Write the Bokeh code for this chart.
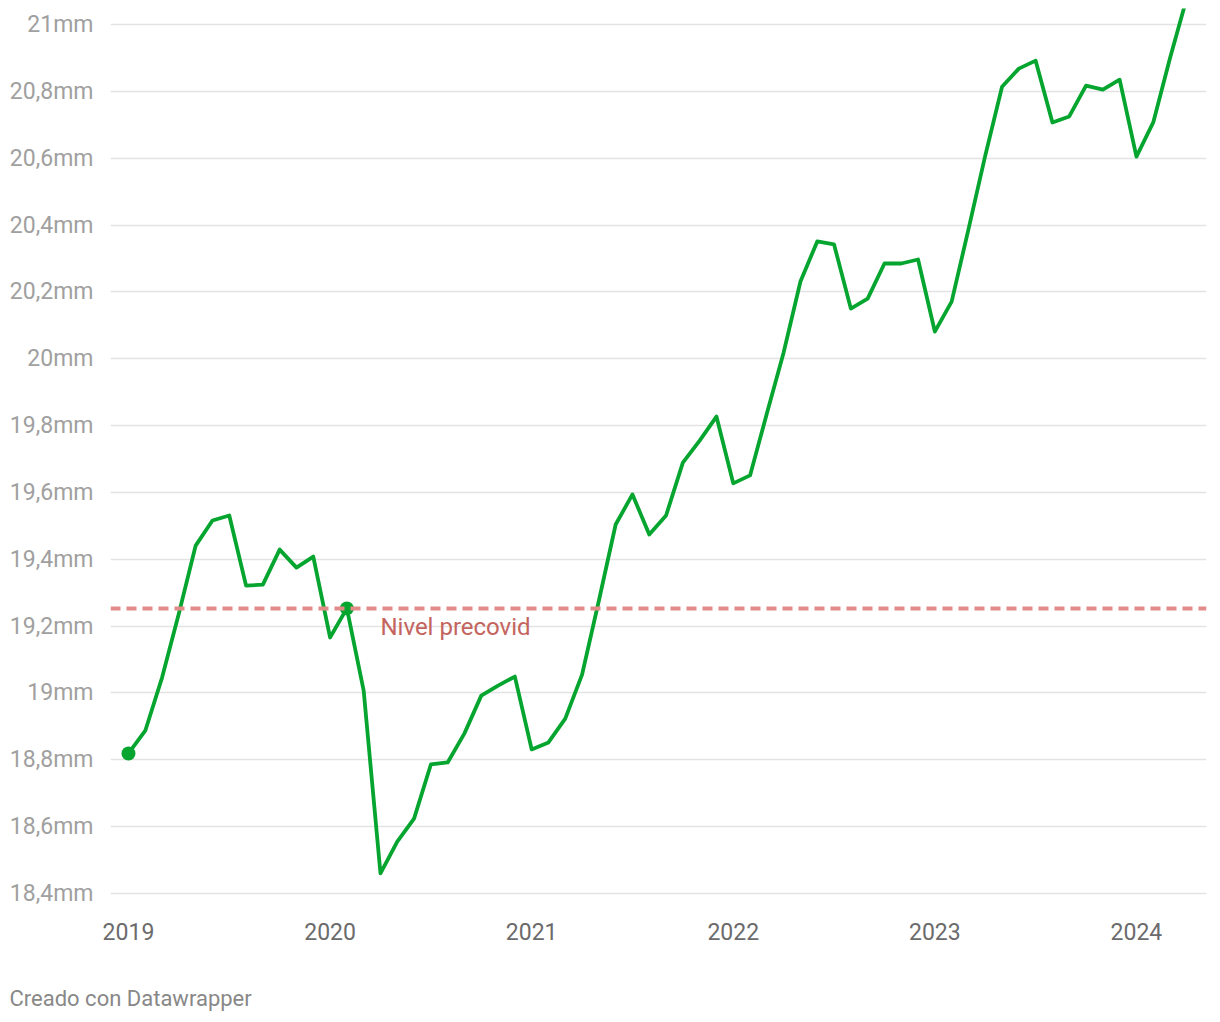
from bokeh.plotting import figure
from bokeh.models import ColumnDataSource, FixedTicker, Span, Label, Title, Range1d
from bokeh.embed import file_html
from bokeh.resources import INLINE

# Monthly values, Jan 2019 .. Apr 2024 (month index 0 = Jan 2019)
months = list(range(64))
values = [
    18.819, 18.887, 19.046, 19.238, 19.441, 19.516, 19.531, 19.321, 19.324, 19.429, 19.375, 19.408,
    19.166, 19.253, 19.007, 18.460, 18.555, 18.624, 18.786, 18.792, 18.879, 18.992, 19.022, 19.049,
    18.831, 18.852, 18.923, 19.055, 19.276, 19.504, 19.594, 19.474, 19.531, 19.689, 19.755, 19.827,
    19.627, 19.651, 19.836, 20.019, 20.231, 20.351, 20.342, 20.150, 20.180, 20.285, 20.285, 20.297,
    20.081, 20.171, 20.387, 20.608, 20.814, 20.868, 20.892, 20.707, 20.725, 20.817, 20.805, 20.835,
    20.605, 20.707, 20.900, 21.080,
]
highlight_months = [0, 13]
highlight_values = [18.819, 19.253]
precovid_level = 19.253
precovid_label = "Nivel precovid"

year_ticks = [0, 12, 24, 36, 48, 60]
year_labels = ["2019", "2020", "2021", "2022", "2023", "2024"]
y_ticks = [18.4, 18.6, 18.8, 19.0, 19.2, 19.4, 19.6, 19.8, 20.0, 20.2, 20.4, 20.6, 20.8, 21.0]
y_labels = ["18,4mm", "18,6mm", "18,8mm", "19mm", "19,2mm", "19,4mm", "19,6mm", "19,8mm",
            "20mm", "20,2mm", "20,4mm", "20,6mm", "20,8mm", "21mm"]
footer = "Creado con Datawrapper"

FONT = "Roboto"
GREEN = "#06a52f"

p = figure(frame_width=1096, frame_height=892, output_backend="svg", toolbar_location=None,
           x_range=Range1d(-1.07, 64.17), y_range=Range1d(18.379, 21.048),
           min_border_left=110, min_border_right=6, min_border_top=8, min_border_bottom=0)
p.outline_line_color = None
p.background_fill_color = "white"
p.border_fill_color = "white"

p.xgrid.grid_line_color = None
p.ygrid.grid_line_color = "#e3e3e3"
p.ygrid.grid_line_width = 1.5

p.yaxis.ticker = FixedTicker(ticks=y_ticks)
p.yaxis.major_label_overrides = dict(zip(y_ticks, y_labels))
p.yaxis.axis_line_color = None
p.yaxis.major_tick_line_color = None
p.yaxis.minor_tick_line_color = None
p.yaxis.major_label_standoff = 11
p.yaxis.major_label_text_font = FONT
p.yaxis.major_label_text_font_size = "23px"
p.yaxis.major_label_text_color = "#a0a0a0"

p.xaxis.ticker = FixedTicker(ticks=year_ticks)
p.xaxis.major_label_overrides = dict(zip(year_ticks, year_labels))
p.xaxis.axis_line_color = None
p.xaxis.major_tick_line_color = None
p.xaxis.minor_tick_line_color = None
p.xaxis.major_label_standoff = 16
p.xaxis.major_label_text_font = FONT
p.xaxis.major_label_text_font_size = "23px"
p.xaxis.major_label_text_color = "#6b6b6b"

p.add_layout(Span(location=precovid_level, dimension="width", line_color="#e38b88",
                  line_width=4, line_dash="10 6"))

src = ColumnDataSource(dict(x=months, y=values))
p.line("x", "y", source=src, line_color=GREEN, line_width=3.8, line_join="round")
p.scatter(highlight_months, highlight_values, size=14, fill_color=GREEN, line_color=None)

p.add_layout(Label(x=15.0, y=19.196, text=precovid_label, text_font=FONT,
                   text_font_size="24px", text_color="#c4645e", text_baseline="middle"))

p.add_layout(Title(text=footer, align="left", offset=-101, text_font=FONT,
                   text_font_size="22px", text_color="#888888", text_font_style="normal",
                   standoff=82), "below")

open("out.html", "w").write(file_html(p, INLINE))
